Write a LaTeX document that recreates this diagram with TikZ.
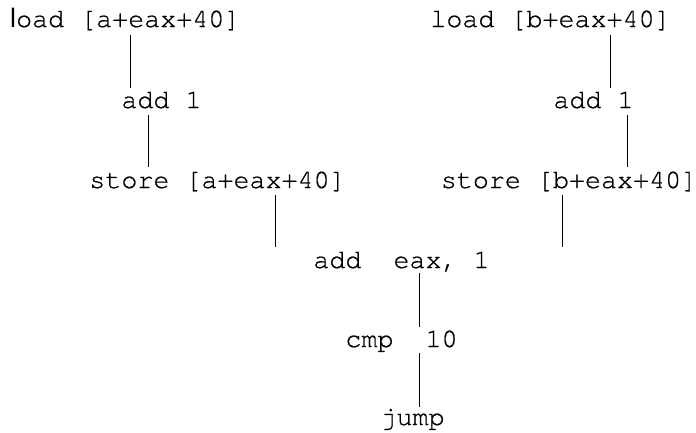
\documentclass[tikz,border=0pt]{standalone}
\usepackage{fontspec}
\setmonofont[FakeBold=0.6]{texgyrecursor-regular.otf}
\newfontfamily\sanslfont{Liberation Sans}
\begin{document}
\begin{tikzpicture}[x=1pt,y=-1pt,
  code/.style={inner sep=0pt, font=\ttfamily\fontsize{26.7}{30}\selectfont, text=black},
  link/.style={line width=0.8pt, draw=black}]
\useasboundingbox (0,0) rectangle (696,432);
% nodes
\node[code, anchor=base west] (la) at (10,27) {{\sanslfont l}oad [a+eax+40]};
\node[code, anchor=base] (lb) at (550.5,27) {load [b+eax+40]};
\node[code, anchor=base] (aa) at (161.5,108) {add 1};
\node[code, anchor=base] (ab) at (593.5,108) {add 1};
\node[code, anchor=base] (sa) at (217.5,188) {store [a+eax+40]};
\node[code, anchor=base] (sb) at (569,188) {store [b+eax+40]};
\node[code, anchor=base] (ae) at (401.5,268) {add\ \ eax, 1};
\node[code, anchor=base] (cm) at (401.5,347) {cmp\ \ 10};
\node[code, anchor=base] (jp) at (412.5,425) {jump};
% connector end points
\coordinate (c1a) at (130,35);  \coordinate (c1b) at (130,88);
\coordinate (c2a) at (148,115); \coordinate (c2b) at (148,167);
\coordinate (c3a) at (275,195); \coordinate (c3b) at (275,247);
\coordinate (c4a) at (610,35);  \coordinate (c4b) at (610,88);
\coordinate (c5a) at (627,115); \coordinate (c5b) at (627,167);
\coordinate (c6a) at (562,195); \coordinate (c6b) at (562,247);
\coordinate (c7a) at (419,273); \coordinate (c7b) at (419,327);
\coordinate (c8a) at (419,353); \coordinate (c8b) at (419,407);
\draw[link] (c1a) -- (c1b);
\draw[link] (c2a) -- (c2b);
\draw[link] (c3a) -- (c3b);
\draw[link] (c4a) -- (c4b);
\draw[link] (c5a) -- (c5b);
\draw[link] (c6a) -- (c6b);
\draw[link] (c7a) -- (c7b);
\draw[link] (c8a) -- (c8b);
\end{tikzpicture}
\end{document}
